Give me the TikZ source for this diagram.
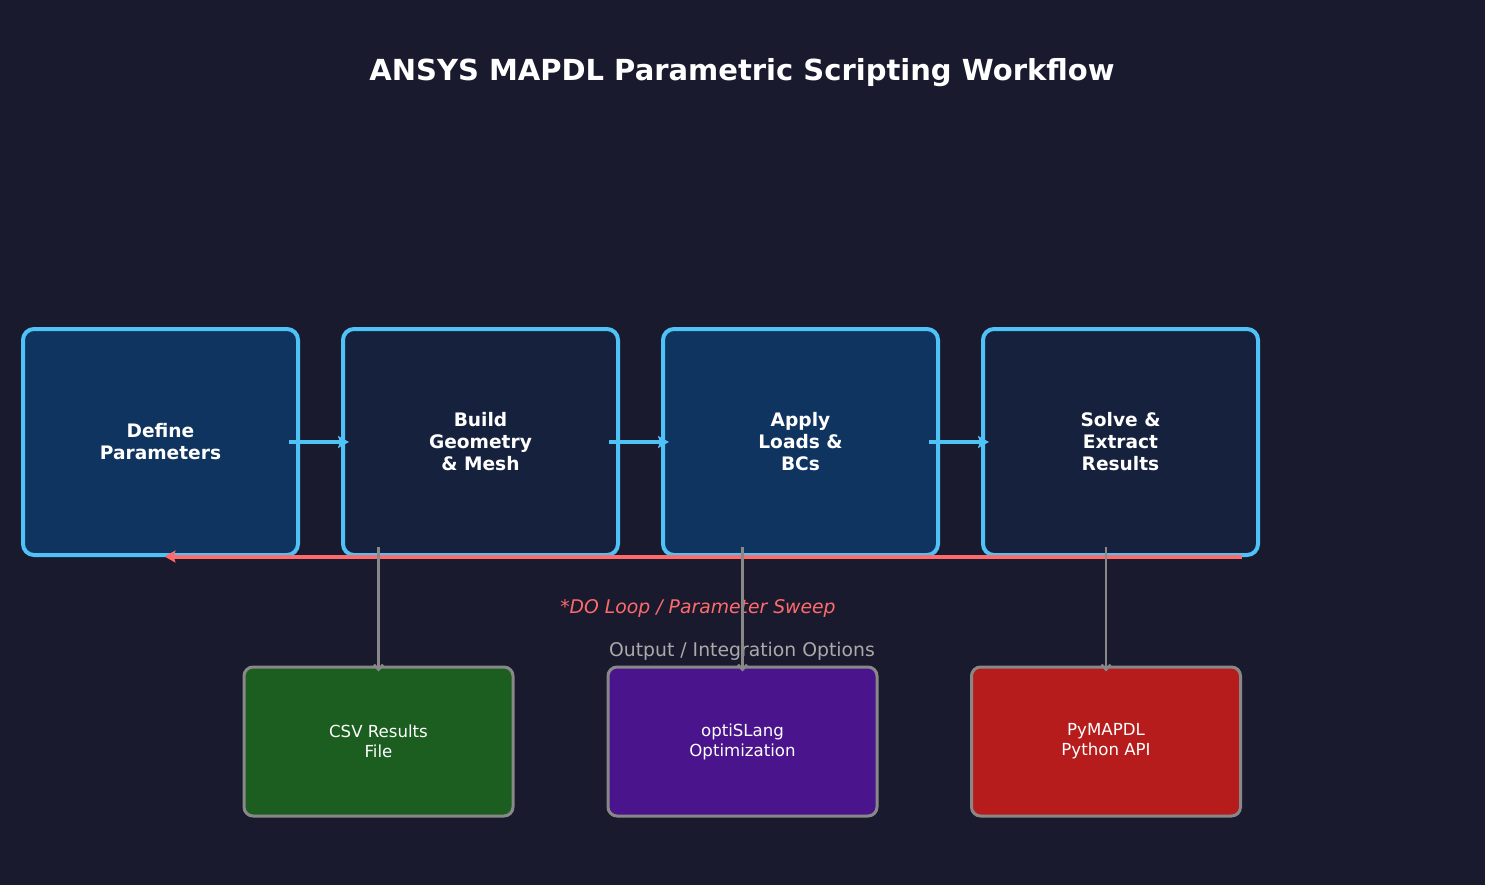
\documentclass[tikz,border=0pt]{standalone}
\usepackage{fontspec}
\setmainfont{DejaVu Sans}
\usetikzlibrary{arrows.meta}
\definecolor{bgdark}{HTML}{1A1A2E}
\definecolor{boxnavy}{HTML}{16213E}
\definecolor{boxblue}{HTML}{0F3460}
\definecolor{edgecyan}{HTML}{4FC3F7}
\definecolor{loopred}{HTML}{FF6B6B}
\definecolor{edgegray}{HTML}{888888}
\definecolor{labelgray}{HTML}{AAAAAA}
\definecolor{csvgreen}{HTML}{1B5E20}
\definecolor{optipurple}{HTML}{4A148C}
\definecolor{pyred}{HTML}{B71C1C}
\begin{document}
\begin{tikzpicture}[x=1pt, y=-1pt,
    stagebox/.style={draw=edgecyan, line width=4pt, rounded corners=11pt,
      minimum width=275pt, minimum height=226pt, align=center, text=white,
      font=\fontsize{18.6}{22}\selectfont\bfseries},
    outbox/.style={draw=edgegray, line width=3pt, rounded corners=9pt,
      minimum width=269pt, minimum height=149pt, align=center, text=white,
      font=\fontsize{16.6}{20}\selectfont},
    flow/.style={edgecyan, line width=4pt, -{Stealth[length=11pt, width=12pt, inset=2pt]}},
    tap/.style={edgegray, line width=2.5pt, -{Straight Barb[length=5pt, width=9pt]}}]
    % Background
    \fill[bgdark] (0,0) rectangle (1485,885);
    \useasboundingbox (0,0) rectangle (1485,885);
    % Title
    \node[text=white, font=\fontsize{29}{34}\selectfont\bfseries] (title) at (742,73) {ANSYS MAPDL Parametric Scripting Workflow};
    % Workflow stages
    \node[stagebox, fill=boxblue] (define) at (160.5,442) {Define\\Parameters};
    \node[stagebox, fill=boxnavy] (build) at (480.5,442) {Build\\Geometry\\\& Mesh};
    \node[stagebox, fill=boxblue] (apply) at (800.5,442) {Apply\\Loads \&\\BCs};
    \node[stagebox, fill=boxnavy] (solve) at (1120.5,442) {Solve \&\\Extract\\Results};
    % Stage arrows
    \draw[flow] ([xshift=-11pt]define.east) -- ([xshift=8pt]build.west);
    \draw[flow] ([xshift=-11pt]build.east) -- ([xshift=8pt]apply.west);
    \draw[flow] ([xshift=-11pt]apply.east) -- ([xshift=8pt]solve.west);
    % Loop back
    \coordinate (loopend) at ([xshift=-18pt, yshift=0.5pt]solve.south east);
    \draw[loopred, line width=4pt, -{Stealth[length=11pt, width=12pt, inset=2pt]}] (loopend) -- ([xshift=4pt]loopend -| define.south);
    \node[text=loopred, font=\fontsize{18.8}{22}\selectfont\itshape] (looplabel) at (698,608) {*DO Loop / Parameter Sweep};
    % Outputs
    \node[text=labelgray, font=\fontsize{18.8}{22}\selectfont] (outlabel) at (742,651) {Output / Integration Options};
    \node[outbox, fill=csvgreen] (csv) at (378.5,741.5) {CSV Results\\File};
    \node[outbox, fill=optipurple] (opti) at (742.5,741.5) {optiSLang\\Optimization};
    \node[outbox, fill=pyred] (pymapdl) at (1106,741.5) {PyMAPDL\\Python API};
    % Output taps
    \draw[tap] ([yshift=10pt]csv.north |- define.south) -- ([yshift=-6pt]csv.north);
    \draw[tap] ([yshift=10pt]opti.north |- define.south) -- ([yshift=-6pt]opti.north);
    \draw[tap] ([yshift=10pt]pymapdl.north |- define.south) -- ([yshift=-6pt]pymapdl.north);
\end{tikzpicture}
\end{document}
